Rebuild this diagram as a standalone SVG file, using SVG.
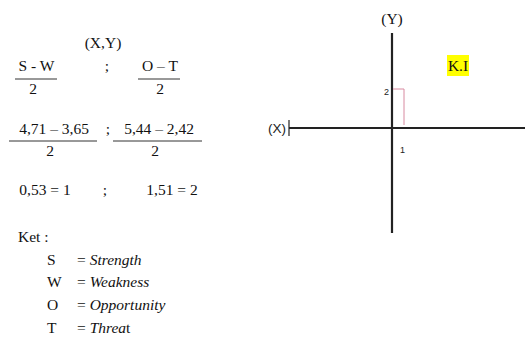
<svg xmlns="http://www.w3.org/2000/svg" width="525" height="338" viewBox="0 0 525 338">
<style>
.t{font-family:"Liberation Serif","Times New Roman",serif;font-size:15.5px;fill:#111}
.m{text-anchor:middle}
.i{font-style:italic}
.fr{stroke:#333;stroke-width:1}
.ax{stroke:#222;stroke-width:2.2}
.s{font-family:"Liberation Sans",Arial,sans-serif;font-size:9px;fill:#222}
</style>
<rect width="525" height="338" fill="#fff"/>
<g id="formula">
<text class="t m" x="103" y="48">(X,Y)</text>
<text class="t m" x="36.5" y="71">S - W</text>
<text class="t m" x="107" y="71">;</text>
<text class="t m" x="160" y="71">O – T</text>
<line class="fr" x1="15" y1="79" x2="57" y2="79"/>
<line class="fr" x1="138" y1="79" x2="180" y2="79"/>
<text class="t m" x="33" y="94">2</text>
<text class="t m" x="160" y="94">2</text>
<text class="t m" x="54" y="134">4,71 – 3,65</text>
<text class="t m" x="108" y="134">;</text>
<text class="t m" x="159" y="134">5,44 – 2,42</text>
<line class="fr" x1="9" y1="141" x2="97" y2="141"/>
<line class="fr" x1="113" y1="141" x2="202" y2="141"/>
<text class="t m" x="50" y="156">2</text>
<text class="t m" x="155" y="156">2</text>
<text class="t m" x="45" y="195">0,53 = 1</text>
<text class="t m" x="105" y="195">;</text>
<text class="t m" x="172" y="195">1,51 = 2</text>
</g>
<g id="legend">
<text class="t" x="18" y="242">Ket :</text>
<text class="t" x="47" y="265">S</text><text class="t" x="77" y="265">= <tspan class="i">Strength</tspan></text>
<text class="t" x="47" y="287">W</text><text class="t" x="77" y="287">= <tspan class="i">Weakness</tspan></text>
<text class="t" x="47" y="310">O</text><text class="t" x="77" y="310">= <tspan class="i">Opportunity</tspan></text>
<text class="t" x="47" y="333">T</text><text class="t" x="77" y="333">= <tspan class="i">Threa</tspan>t</text>
</g>
<g id="chart">
<text class="t m" x="392" y="24">(Y)</text>
<line class="ax" x1="392" y1="33" x2="392" y2="233"/>
<line class="ax" x1="289" y1="128" x2="525" y2="128"/>
<line stroke="#222" stroke-width="1.2" x1="289" y1="120" x2="289" y2="136"/>
<text x="268" y="133" style="font-family:'Liberation Sans',Arial,sans-serif;font-size:13.5px;fill:#222">(X)</text>
<polyline points="393,89 404,89 404,125" fill="none" stroke="#d88aa0" stroke-width="1"/>
<text class="s" x="389" y="95" text-anchor="end">2</text>
<text class="s" x="400" y="153">1</text>
<rect x="447" y="55" width="22" height="21" fill="#ffff00"/>
<text class="t m" x="458" y="71">K.I</text>
</g>
</svg>
